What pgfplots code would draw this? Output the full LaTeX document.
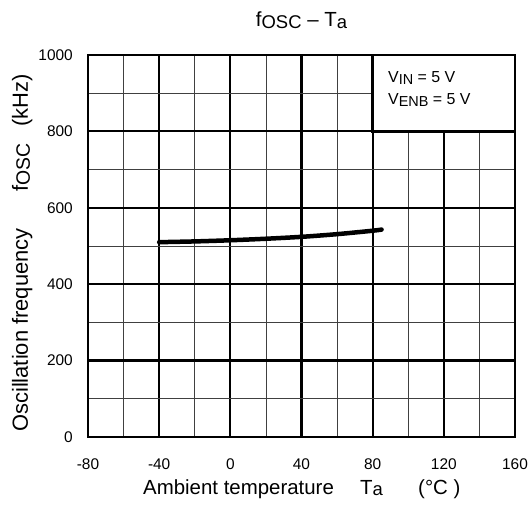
\documentclass[border=0pt]{standalone}
\usepackage{pgfplots}
\pgfplotsset{compat=1.18}
\usepackage{fontspec}
\setmainfont{Liberation Sans}
\newcommand\sub[2]{\raisebox{-1.8bp}{\fontsize{#2}{#2}\selectfont #1}}
\begin{document}
\begin{tikzpicture}
\begin{axis}[
  scale only axis,
  width=427bp, height=382bp,
  xmin=-80, xmax=160, ymin=0, ymax=1000,
  xtick={-80,-40,0,40,80,120,160},
  xticklabels={-80,-40,0,40,80,120,160},
  ytick={0,200,400,600,800,1000},
  yticklabels={0,200,400,600,800,1000},
  minor x tick num=1, minor y tick num=1,
  grid=both,
  major grid style={black, line width=2.2bp},
  minor grid style={black!75, line width=0.8bp},
  major tick length=0pt, minor tick length=0pt,
  axis line style={black, line width=2.6bp},
  xticklabel style={font=\fontsize{15.5}{15.5}\selectfont, anchor=base, inner sep=0pt, yshift=-32bp},
  yticklabel style={font=\fontsize{15.5}{15.5}\selectfont, anchor=east, inner sep=0pt, xshift=-15bp},
  clip=false,
]
\addplot[black, line width=4.5bp, line cap=round, smooth] coordinates {
  (-40,510) (-20,512) (0,515) (20,519) (40,524) (60,531) (80,540) (85,543)
};
\draw[black, line width=2.6bp, fill=white] (axis cs:80,800) rectangle (axis cs:160,1000);
\end{axis}
\begin{scope}[every node/.style={inner sep=0pt}]
\node[anchor=base west, font=\fontsize{16}{16}\selectfont] at (300bp,354bp) {V\sub{IN}{14.5} = 5 V};
\node[anchor=base west, font=\fontsize{16}{16}\selectfont] at (300bp,332bp) {V\sub{ENB}{14.5} = 5 V};
\node[anchor=base, font=\fontsize{20.5}{20.5}\selectfont] at (213.5bp,410bp) {f\sub{OSC}{18.5} -- T\sub{a}{18.5}};
\node[anchor=base west, font=\fontsize{20.5}{20.5}\selectfont] at (55bp,-57bp) {Ambient temperature};
\node[anchor=base west, font=\fontsize{20.5}{20.5}\selectfont] at (272bp,-57bp) {T\sub{a}{18.5}};
\node[anchor=base west, font=\fontsize{20.5}{20.5}\selectfont] at (330bp,-57bp) {(°C )};
\node[anchor=base west, rotate=90, font=\fontsize{22}{22}\selectfont] at (-60bp,5bp) {Oscillation frequency};
\node[anchor=base west, rotate=90, font=\fontsize{22}{22}\selectfont] at (-60bp,245bp) {f\sub{OSC}{19.5}};
\node[anchor=base west, rotate=90, font=\fontsize{22}{22}\selectfont] at (-60bp,310bp) {(kHz)};
\end{scope}
\pgfresetboundingbox
\path[use as bounding box] (-88bp,-69bp) rectangle (443bp,437bp);
\end{tikzpicture}
\end{document}
